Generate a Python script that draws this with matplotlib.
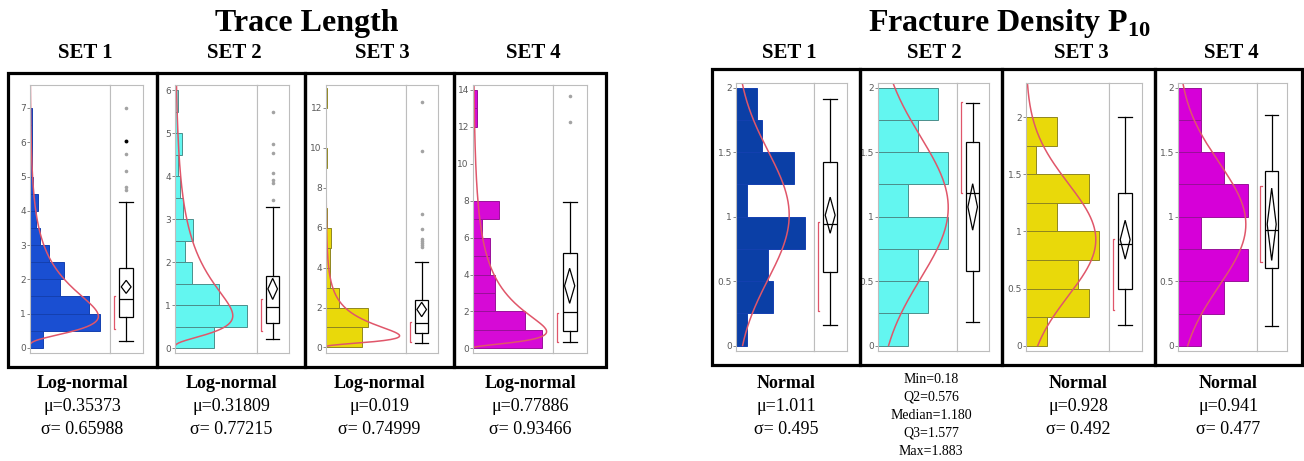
"""Trace length and fracture density P10 per joint set: horizontal histograms with
fitted density curves, plus an outlier box plot beside each histogram."""
import numpy as np
import matplotlib
matplotlib.use("Agg")
import matplotlib.pyplot as plt
from matplotlib.patches import Rectangle, Polygon

plt.rcParams["mathtext.fontset"] = "custom"
plt.rcParams["mathtext.rm"] = "Liberation Serif"
plt.rcParams["mathtext.bf"] = "Liberation Serif:bold"

SERIF = "Liberation Serif"
W, H = 1304, 461

# ---------------- data ----------------
SETS = ["SET 1", "SET 2", "SET 3", "SET 4"]

# trace length (m): bin width and counts per bin, starting at 0
TL_BIN = [0.5, 0.5, 1.0, 1.0]
TL_COUNTS = [
    [8, 44, 37, 19, 21, 12, 6, 4, 5, 2, 1, 1, 1, 1],
    [23, 43, 26, 10, 6, 11, 5, 3, 2, 4, 1, 2],
    [49, 57, 18, 6, 6, 7, 1, 0, 0, 1, 0, 0, 1],
    [16, 12, 5, 5, 4, 4, 2, 6, 0, 0, 0, 0, 1, 1],
]
TL_MU = [0.35373, 0.31809, 0.019, 0.77886]
TL_SIGMA = [0.65988, 0.77215, 0.74999, 0.93466]
# whisker low, Q1, median, Q3, whisker high
TL_BOX = [
    [0.19, 0.90, 1.43, 2.32, 4.27],
    [0.21, 0.58, 0.97, 1.68, 3.29],
    [0.23, 0.74, 1.24, 2.38, 4.27],
    [0.36, 0.94, 1.95, 5.15, 7.95],
]
TL_MEAN = [1.78, 1.38, 1.90, 3.39]
TL_MEAN_CI = [0.19, 0.245, 0.36, 0.95]
TL_SHORTEST = [(0.55, 1.50), (0.41, 1.14), (0.28, 1.29), (0.36, 1.90)]
TL_OUTLIERS = [
    [4.60, 4.68, 5.15, 5.65, 7.0],
    [3.45, 3.85, 3.90, 4.08, 4.53, 4.75, 5.50],
    [5.05, 5.15, 5.25, 5.35, 5.45, 5.95, 6.70, 9.85, 12.30],
    [12.28, 13.67],
]
TL_OUTLIER_SELECTED = [[6.05], [], [], []]
TL_YTICKS = [list(range(0, 8)), list(range(0, 7)), list(range(0, 13, 2)), list(range(0, 15, 2))]
TL_YLIM = [(-0.15, 7.67), (-0.11, 6.12), (-0.28, 13.15), (-0.25, 14.27)]
TL_CAPTION = [
    ["Log-normal", "\u03bc=0.35373", "\u03c3= 0.65988"],
    ["Log-normal", "\u03bc=0.31809", "\u03c3= 0.77215"],
    ["Log-normal", "\u03bc=0.019", "\u03c3= 0.74999"],
    ["Log-normal", "\u03bc=0.77886", "\u03c3= 0.93466"],
]

# fracture density P10 (1/m): bins of 0.25 from 0 to 2
FD_BIN = [0.25, 0.25, 0.25, 0.25]
FD_COUNTS = [
    [2, 7, 6, 13, 2, 11, 5, 4],
    [3, 5, 4, 7, 3, 7, 4, 6],
    [2, 6, 5, 7, 3, 6, 1, 3],
    [1, 2, 3, 1, 3, 2, 1, 1],
]
FD_MU = [1.011, 1.07, 0.928, 0.941]
FD_SIGMA = [0.495, 0.55, 0.492, 0.477]
FD_BOX = [
    [0.163, 0.57, 0.94, 1.42, 1.91],
    [0.18, 0.576, 1.180, 1.577, 1.883],
    [0.185, 0.497, 0.893, 1.336, 2.00],
    [0.15, 0.60, 0.895, 1.35, 1.79],
]
FD_MEAN = [1.011, 1.075, 0.928, 0.941]
FD_MEAN_CI = [0.14, 0.18, 0.17, 0.28]
FD_SHORTEST = [(0.27, 0.96), (1.18, 1.89), (0.31, 0.93), (0.646, 1.235)]
FD_YTICKS = [[0, 0.5, 1, 1.5, 2]] * 4
FD_YLIM = [(-0.042, 2.036), (-0.042, 2.036), (-0.047, 2.30), (-0.04, 2.035)]
FD_CAPTION = [
    ["Normal", "\u03bc=1.011", "\u03c3= 0.495"],
    ["Min=0.18", "Q2=0.576", "Median=1.180", "Q3=1.577", "Max=1.883"],
    ["Normal", "\u03bc=0.928", "\u03c3= 0.492"],
    ["Normal", "\u03bc=0.941", "\u03c3= 0.477"],
]

COLORS = ["#1a4fd2", "#63f6f0", "#e9d90a", "#d60ad6"]
FD_COLORS = ["#0b3fa6", "#63f6f0", "#e9d90a", "#d600d8"]
EDGES = ["#1440b0", "#4b8f8c", "#8f8620", "#9a109a"]
CURVE = "#e0566a"
FRAME = "#bdbdbd"

# panel geometry in pixels: outer left/right, inner left, divider, inner right
TL_GEOM = [(8, 157, 30, 110, 143), (157, 305, 175, 257, 289),
           (305, 454, 326, 406, 438), (454, 606, 473, 553, 587)]
FD_GEOM = [(712, 860, 736, 814, 847), (860, 1002, 878, 957, 989),
           (1002, 1155, 1026, 1109, 1142), (1155, 1302, 1178, 1257, 1287)]

fig = plt.figure(figsize=(W / 100, H / 100), dpi=100)


def rect(x0, x1, y0, y1):
    return [x0 / W, 1 - y1 / H, (x1 - x0) / W, (y1 - y0) / H]


def lognorm_pdf(y, mu, s):
    return np.exp(-(np.log(y) - mu) ** 2 / (2 * s * s)) / (y * s * np.sqrt(2 * np.pi))


def norm_pdf(y, mu, s):
    return np.exp(-(y - mu) ** 2 / (2 * s * s)) / (s * np.sqrt(2 * np.pi))


def panel(geom, outer_y, inner_y, bw, counts, pdf, box, mean, ci, shortest,
          outliers, selected, yticks, ylim, color, edge):
    ox0, ox1, ix0, idiv, ix1 = geom
    fig.patches.append(Rectangle((ox0 / W, 1 - outer_y[1] / H), (ox1 - ox0) / W,
                                 (outer_y[1] - outer_y[0]) / H, transform=fig.transFigure,
                                 fill=False, lw=2.3, ec="black", zorder=5))
    axh = fig.add_axes(rect(ix0, idiv, *inner_y))
    axb = fig.add_axes(rect(idiv, ix1, *inner_y))

    # histogram lying on its side, with the fitted density scaled to counts
    counts = np.asarray(counts, float)
    starts = np.arange(len(counts)) * bw
    axh.barh(starts, counts, height=bw, align="edge", color=color, ec=edge, lw=0.7)

    y = np.linspace(max(ylim[0], 1e-3), ylim[1], 500)
    x = counts.sum() * bw * pdf(y)
    axh.plot(x, y, color=CURVE, lw=1.1)
    axh.set_xlim(0, max(counts.max() / 0.88, x.max() / 0.92))
    axh.set_ylim(*ylim)
    axh.set_xticks([])
    axh.set_yticks(yticks)
    axh.set_yticklabels([f"{t:g}" for t in yticks], fontsize=6.5, color="#5a5a5a")
    axh.tick_params(axis="y", length=2, width=0.6, color="#777777", pad=1)

    # outlier box plot with mean diamond and shortest-half bracket
    lo, q1, med, q3, hi = box
    axb.bxp([dict(whislo=lo, q1=q1, med=med, q3=q3, whishi=hi, fliers=[])],
            positions=[0.49], widths=0.42, capwidths=0.42, showfliers=False,
            patch_artist=True,
            boxprops=dict(facecolor="white", edgecolor="black", lw=0.9),
            medianprops=dict(color="black", lw=0.9),
            whiskerprops=dict(color="black", lw=0.9),
            capprops=dict(color="black", lw=0.9))
    axb.add_patch(Polygon([(0.49, mean - ci), (0.64, mean), (0.49, mean + ci), (0.34, mean)],
                          closed=True, fill=False, ec="black", lw=0.9, zorder=4))
    if outliers:
        axb.plot([0.49] * len(outliers), outliers, "o", ms=2.6, color="#a3a3a3", mec="none")
    if selected:
        axb.plot([0.49] * len(selected), selected, "o", ms=2.8, color="black", mec="none")
    s0, s1 = shortest
    axb.plot([0.16, 0.11, 0.11, 0.16], [s0, s0, s1, s1], color=CURVE, lw=0.9)
    axb.set_xlim(0, 1)
    axb.set_ylim(*ylim)
    axb.set_xticks([])
    axb.set_yticks([])
    for ax in (axh, axb):
        for sp in ax.spines.values():
            sp.set_color(FRAME)
            sp.set_linewidth(0.8)


for i in range(4):
    mu, s = TL_MU[i], TL_SIGMA[i]
    panel(TL_GEOM[i], (73, 367), (85, 353), TL_BIN[i], TL_COUNTS[i],
          lambda y, mu=mu, s=s: lognorm_pdf(y, mu, s), TL_BOX[i], TL_MEAN[i],
          TL_MEAN_CI[i], TL_SHORTEST[i], TL_OUTLIERS[i], TL_OUTLIER_SELECTED[i],
          TL_YTICKS[i], TL_YLIM[i], COLORS[i], EDGES[i])
    mu, s = FD_MU[i], FD_SIGMA[i]
    panel(FD_GEOM[i], (69, 365), (83, 351), FD_BIN[i], FD_COUNTS[i],
          lambda y, mu=mu, s=s: norm_pdf(y, mu, s), FD_BOX[i], FD_MEAN[i],
          FD_MEAN_CI[i], FD_SHORTEST[i], [], [], FD_YTICKS[i], FD_YLIM[i],
          FD_COLORS[i], EDGES[i])


def ftext(x, y, s, size, bold=False):
    fig.text(x / W, 1 - y / H, s, ha="center", va="center", fontsize=size,
             family=SERIF, fontweight="bold" if bold else "normal")


ftext(307, 23, "Trace Length", 23, bold=True)
ftext(1010, 23, r"Fracture Density P$_{\mathbf{10}}$", 23, bold=True)

for i in range(4):
    for geom in (TL_GEOM[i], FD_GEOM[i]):
        ftext((geom[0] + geom[1]) / 2 + 3, 53, SETS[i], 15, bold=True)

    cx = (TL_GEOM[i][0] + TL_GEOM[i][1]) / 2
    for line, yy in zip(TL_CAPTION[i], (384, 406, 429)):
        ftext(cx, yy, line, 13, bold=line.startswith("Log"))

    cx = (FD_GEOM[i][0] + FD_GEOM[i][1]) / 2
    if len(FD_CAPTION[i]) == 3:
        for line, yy in zip(FD_CAPTION[i], (384, 406, 429)):
            ftext(cx, yy, line, 13, bold=line == "Normal")
    else:
        for line, yy in zip(FD_CAPTION[i], (379, 397, 415, 433, 451)):
            ftext(cx, yy, line, 10)

fig.savefig("out.png", dpi=100, facecolor="white")
